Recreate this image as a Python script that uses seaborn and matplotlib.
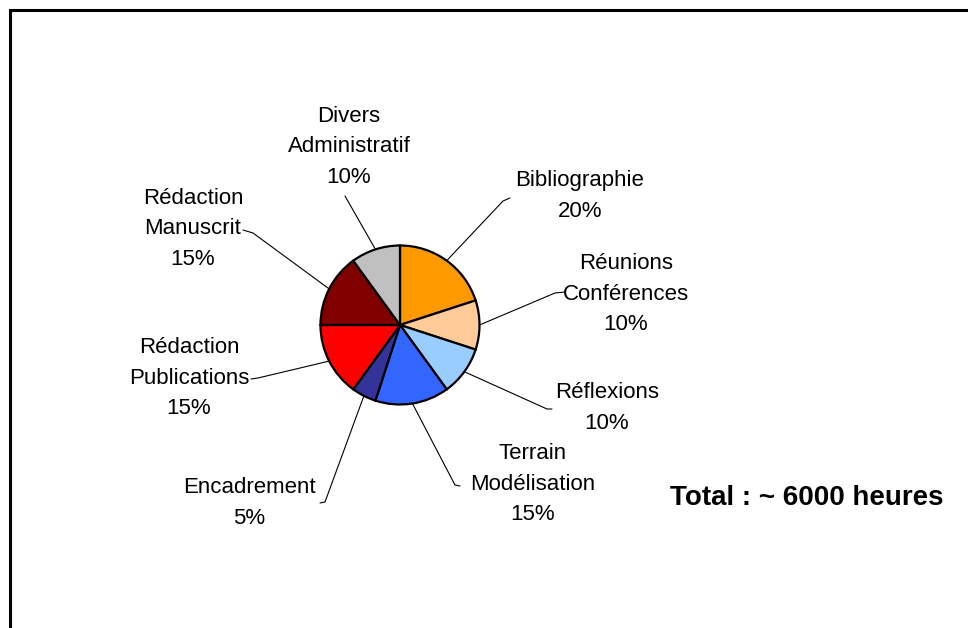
import numpy as np
import matplotlib
matplotlib.use("Agg")
import matplotlib.pyplot as plt
import seaborn as sns
from matplotlib.patches import Rectangle

# data
categories = ["Bibliographie", "Réunions\nConférences", "Réflexions",
              "Terrain\nModélisation", "Encadrement", "Rédaction\nPublications",
              "Rédaction\nManuscrit", "Divers\nAdministratif"]
shares = [20, 10, 10, 15, 5, 15, 15, 10]
colors = ["#FF9900", "#FFCC99", "#99CCFF", "#3366FF",
          "#333399", "#FF0000", "#800000", "#C0C0C0"]
total_label = "Total : ~ 6000 heures"

sns.set_theme(style="white")
plt.rcParams["font.family"] = ["Liberation Sans", "DejaVu Sans"]

W, H = 968, 628
fig = plt.figure(figsize=(W / 100, H / 100), dpi=100)
ax = fig.add_axes([0, 0, 1, 1])

# layout, pixel coords measured from the top left
pie_center = (400, 325)
pie_radius = 79.5
label_pos = [(580, 196), (626, 294), (607, 408), (533, 484),
             (249, 503), (189, 378), (193, 229), (349, 147)]
leader_bend = [(503, 201), (555, 293), (547, 409), (455, 485),
               (325, 502), (258, 378), (253, 233), (345, 196)]
leader_end = [(510, 198), (565, 292), (552, 409), (460, 486),
              (320, 503), (251, 379), (243, 230), (345, 196)]

cx, cy = pie_center[0], H - pie_center[1]
wedges, _ = ax.pie(shares, colors=colors, startangle=90, counterclock=False,
                   center=(cx, cy), radius=pie_radius, frame=True,
                   wedgeprops=dict(edgecolor="black", linewidth=1.6))

total = sum(shares)
for w, cat, v, pos, bend, end in zip(wedges, categories, shares,
                                      label_pos, leader_bend, leader_end):
    mid = np.deg2rad((w.theta1 + w.theta2) / 2)
    ax_x = cx + pie_radius * np.cos(mid)
    ax_y = cy + pie_radius * np.sin(mid)
    ax.plot([ax_x, bend[0], end[0]], [ax_y, H - bend[1], H - end[1]],
            color="black", lw=0.8, zorder=1)
    ax.text(pos[0], H - pos[1], f"{cat}\n{v / total:.0%}", ha="center",
            va="center", fontsize=16, linespacing=1.62, color="black")

ax.text(807, H - 498, total_label, ha="center", va="center",
        fontsize=20, fontweight="bold", color="black")

# outer frame (only top and left edges show)
ax.add_patch(Rectangle((9.5, -20), W, H - 9.5 + 20, fill=False,
                       edgecolor="black", lw=2.2))

ax.set_xlim(0, W)
ax.set_ylim(0, H)
ax.set_axis_off()
fig.savefig("out.png", dpi=100)
